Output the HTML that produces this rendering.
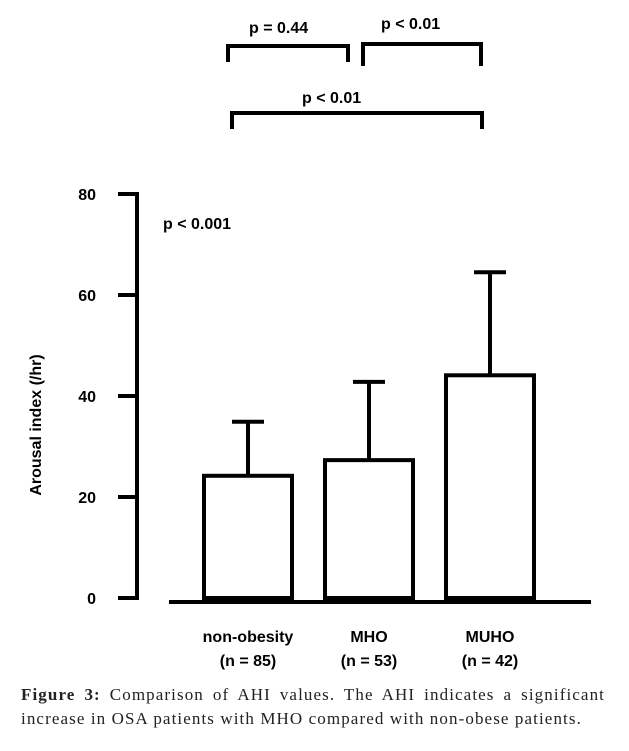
<!DOCTYPE html>
<html><head><meta charset="utf-8"><style>
body{margin:0;background:#fff;width:629px;height:751px;overflow:hidden}
svg text{font-family:"Liberation Sans",sans-serif;font-weight:bold;font-size:16px;fill:#000}
.cap{position:absolute;left:21px;top:683px;width:584px;font-family:"Liberation Serif",serif;font-size:17px;line-height:24px;color:#222;letter-spacing:1.1px}
.l1{text-align:justify;text-align-last:justify;display:block;white-space:nowrap}
</style></head><body>
<svg width="629" height="751" style="position:absolute;left:0;top:0">
<g id="g" stroke="#000" stroke-width="4" fill="none"></g>
<g id="t"></g>
<text x="41" y="425" transform="rotate(-90 41 425)" text-anchor="middle" font-size="17">Arousal index (/hr)</text>
<text x="163" y="229">p &lt; 0.001</text>
<text x="249" y="33">p = 0.44</text>
<text x="381" y="29">p &lt; 0.01</text>
<text x="302" y="103">p &lt; 0.01</text>
</svg>
<div class="cap"><div class="l1"><b>Figure 3:</b> Comparison of AHI values. The AHI indicates a significant</div>increase in OSA patients with MHO compared with non-obese patients.</div>
<script>
const categories=["non-obesity","MHO","MUHO"];
const nLabels=["(n = 85)","(n = 53)","(n = 42)"];
const means=[24.2,27.3,44.1];
const errTops=[34.9,42.8,64.5];
const ticks=[0,20,40,60,80];
const NS="http://www.w3.org/2000/svg";
const g=document.getElementById('g'),t=document.getElementById('t');
const y=v=>598-v*5.05;
const bx=i=>[248,369,490][i];
function mk(p,tag,a){const e=document.createElementNS(NS,tag);for(const k in a)e.setAttribute(k,a[k]);p.appendChild(e);return e;}
let e=mk(g,'line',{x1:137,y1:y(80)-1,x2:137,y2:y(0)+1});


e=mk(g,'line',{x1:169,y1:602,x2:591,y2:602});


ticks.forEach(v=>{
 let l=mk(g,'line',{x1:118,y1:y(v),x2:139,y2:y(v)});
 
 
 let tx=mk(t,'text',{x:96,y:y(v)+6,'text-anchor':'end'});tx.textContent=v;
 
 
});
categories.forEach((c,i)=>{
 const cx=bx(i),w=92;
 let el=mk(g,'line',{x1:cx,y1:y(errTops[i]),x2:cx,y2:y(means[i])});
 
 
 let cp=mk(g,'line',{x1:cx-16,y1:y(errTops[i]),x2:cx+16,y2:y(errTops[i])});
 
 
 let r=mk(g,'rect',{x:cx-w/2+2,y:y(means[i]),width:w-4,height:y(0)-y(means[i]),fill:'#fff'});
 
 
 let a=mk(t,'text',{x:cx,y:642,'text-anchor':'middle'});a.textContent=c;
 
 
 let b=mk(t,'text',{x:cx,y:666,'text-anchor':'middle'});b.textContent=nLabels[i];
 
 
});
[[228,348,46,62],[363,481,44,66],[232,482,113,129]].forEach(b=>{
 let p=mk(g,'polyline',{points:`${b[0]},${b[3]} ${b[0]},${b[2]} ${b[1]},${b[2]} ${b[1]},${b[3]}`});
 
 
});
</script>
</body></html>
